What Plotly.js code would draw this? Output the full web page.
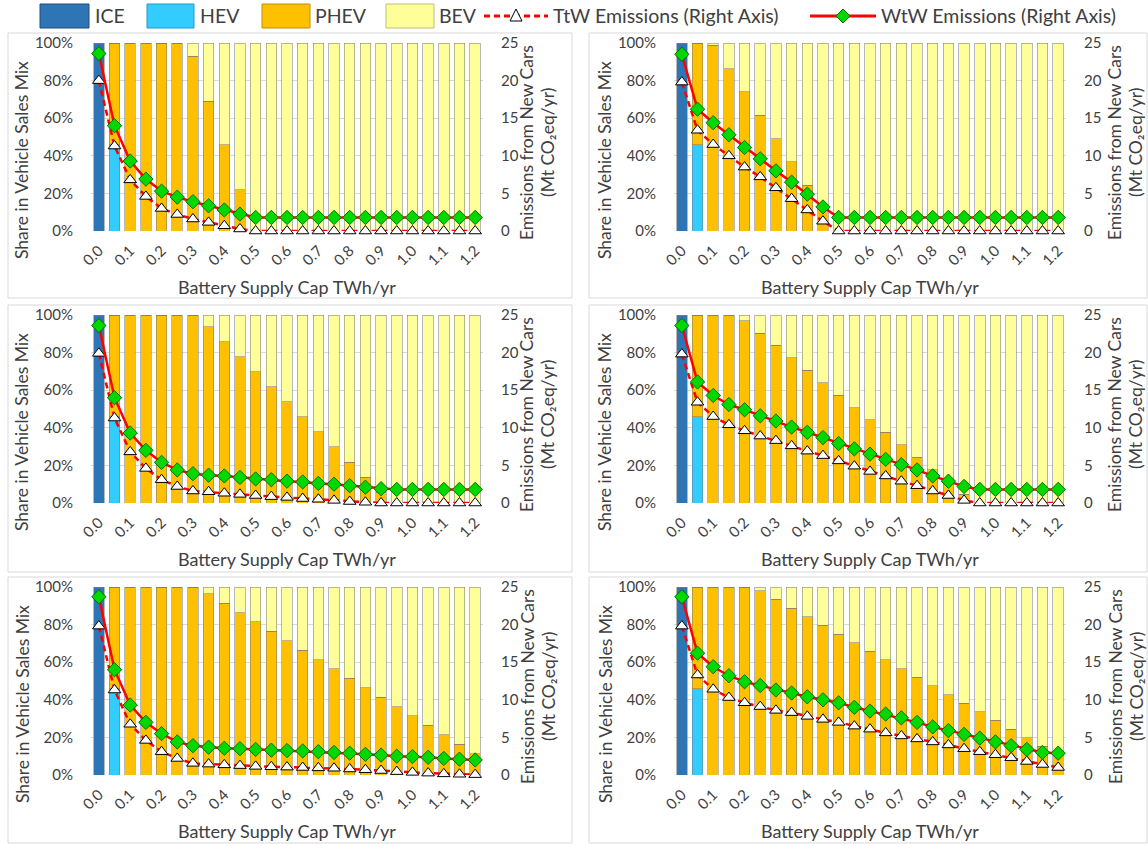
<!DOCTYPE html>
<html><head><meta charset="utf-8">
<script src="https://cdn.plot.ly/plotly-3.0.1.min.js"></script>
<style>body{margin:0;background:#fff}#chart{width:1148px;height:844px}</style>
</head><body><div id="chart"></div>
<script>
// ---------------- DATA ----------------
const caps = [0.00,0.05,0.10,0.15,0.20,0.25,0.30,0.35,0.40,0.45,0.50,0.55,0.60,0.65,0.70,0.75,0.80,0.85,0.90,0.95,1.00,1.05,1.10,1.15,1.20];
const tickVals = [0.0,0.1,0.2,0.3,0.4,0.5,0.6,0.7,0.8,0.9,1.0,1.1,1.2];
const tickLabels = ['0.0','0.1','0.2','0.3','0.4','0.5','0.6','0.7','0.8','0.9','1.0','1.1','1.2'];
const seriesNames = ['ICE','HEV','PHEV','BEV','TtW Emissions (Right Axis)','WtW Emissions (Right Axis)'];

const ice = [100,0,0,0,0,0,0,0,0,0,0,0,0,0,0,0,0,0,0,0,0,0,0,0,0];
const hev = [0,46,0,0,0,0,0,0,0,0,0,0,0,0,0,0,0,0,0,0,0,0,0,0,0];

// Panel 1 (top left)
const phev1 = [0,54,100,100,100,100,93,69,46,22,0,0,0,0,0,0,0,0,0,0,0,0,0,0,0];
const bev1  = [0,0,0,0,0,0,7,31,54,78,100,100,100,100,100,100,100,100,100,100,100,100,100,100,100];
const ttw1  = [20.0,11.3,6.8,4.6,3.0,2.2,1.6,1.15,0.7,0.27,0,0,0,0,0,0,0,0,0,0,0,0,0,0,0];
const wtw1  = [23.6,14.0,9.3,6.9,5.3,4.5,3.9,3.35,2.8,2.25,1.8,1.8,1.8,1.8,1.8,1.8,1.8,1.8,1.8,1.8,1.8,1.8,1.8,1.8,1.8];

// Panel 2 (top right)
const phev2 = [0,54,98.8,86.4,74,61.6,49.2,36.8,24.4,12,0,0,0,0,0,0,0,0,0,0,0,0,0,0,0];
const bev2  = [0,0,1.2,13.6,26,38.4,50.8,63.2,75.6,88,100,100,100,100,100,100,100,100,100,100,100,100,100,100,100];
const ttw2  = [19.8,13.4,11.5,10.0,8.5,7.2,5.75,4.3,2.8,1.3,0,0,0,0,0,0,0,0,0,0,0,0,0,0,0];
const wtw2  = [23.5,16.2,14.4,12.8,11.1,9.6,8.0,6.5,4.9,3.2,1.8,1.8,1.8,1.8,1.8,1.8,1.8,1.8,1.8,1.8,1.8,1.8,1.8,1.8,1.8];

// Panel 3 (middle left)
const phev3 = [0,54,100,100,100,100,100,93.8,85.8,77.8,69.8,61.8,53.8,45.8,37.8,29.8,21.8,13.8,5.8,0,0,0,0,0,0];
const bev3  = [0,0,0,0,0,0,0,6.2,14.2,22.2,30.2,38.2,46.2,54.2,62.2,70.2,78.2,86.2,94.2,100,100,100,100,100,100];
const ttw3  = [19.9,11.3,6.8,4.6,3.1,2.2,1.6,1.5,1.3,1.15,1.0,0.85,0.75,0.6,0.5,0.35,0.2,0.1,0,0,0,0,0,0,0];
const wtw3  = [23.6,14.0,9.3,7.0,5.4,4.4,3.9,3.7,3.6,3.4,3.2,3.1,2.9,2.8,2.6,2.5,2.3,2.1,1.9,1.8,1.8,1.8,1.8,1.8,1.8];

// Panel 4 (middle right)
const phev4 = [0,54,100,100,97,90.4,83.8,77.2,70.6,64,57.4,50.8,44.2,37.6,31,24.4,17.8,11.2,4.6,0,0,0,0,0,0];
const bev4  = [0,0,0,0,3,9.6,16.2,22.8,29.4,36,42.6,49.2,55.8,62.4,69,75.6,82.2,88.8,95.4,100,100,100,100,100,100];
const ttw4  = [19.8,13.4,11.5,10.4,9.6,8.9,8.3,7.6,6.9,6.3,5.6,4.9,4.2,3.6,2.9,2.3,1.6,1.0,0.35,0,0,0,0,0,0];
const wtw4  = [23.6,16.1,14.3,13.1,12.4,11.6,10.9,10.1,9.4,8.7,7.9,7.2,6.5,5.8,5.1,4.4,3.6,2.9,2.2,1.8,1.8,1.8,1.8,1.8,1.8];

// Panel 5 (bottom left)
const phev5 = [0,54,100,100,100,100,100,96.4,91.4,86.4,81.4,76.4,71.4,66.4,61.4,56.4,51.4,46.4,41.4,36.4,31.4,26.4,21.4,16.4,11.4];
const bev5  = [0,0,0,0,0,0,0,3.6,8.6,13.6,18.6,23.6,28.6,33.6,38.6,43.6,48.6,53.6,58.6,63.6,68.6,73.6,78.6,83.6,88.6];
const ttw5  = [19.8,11.3,6.75,4.6,3.1,2.2,1.55,1.45,1.35,1.25,1.15,1.1,1.05,1.0,0.95,0.9,0.8,0.7,0.6,0.45,0.35,0.25,0.15,0.1,0.05];
const wtw5  = [23.7,14.0,9.3,7.0,5.5,4.4,3.9,3.7,3.55,3.5,3.4,3.3,3.25,3.2,3.1,3.0,2.9,2.75,2.65,2.5,2.45,2.35,2.2,2.1,2.0];

// Panel 6 (bottom right)
const phev6 = [0,54,100,100,100,98,93.4,88.8,84.2,79.6,75,70.4,65.8,61.2,56.6,52,47.4,42.8,38.2,33.6,29,24.4,19.8,15.2,10.6];
const bev6  = [0,0,0,0,0,2,6.6,11.2,15.8,20.4,25,29.6,34.2,38.8,43.4,48,52.6,57.2,61.8,66.4,71,75.6,80.2,84.8,89.4];
const ttw6  = [19.8,13.3,11.4,10.3,9.6,9.1,8.6,8.3,7.8,7.4,7.0,6.5,6.1,5.6,5.2,4.8,4.4,4.0,3.5,3.1,2.7,2.3,1.8,1.4,1.0];
const wtw6  = [23.7,16.2,14.4,13.2,12.4,11.9,11.3,10.9,10.4,10.0,9.6,9.0,8.5,8.1,7.6,7.0,6.4,5.9,5.4,4.9,4.4,3.9,3.4,3.0,2.9];

const panels = [
  {phev: phev1, bev: bev1, ttw: ttw1, wtw: wtw1},
  {phev: phev2, bev: bev2, ttw: ttw2, wtw: wtw2},
  {phev: phev3, bev: bev3, ttw: ttw3, wtw: wtw3},
  {phev: phev4, bev: bev4, ttw: ttw4, wtw: wtw4},
  {phev: phev5, bev: bev5, ttw: ttw5, wtw: wtw5},
  {phev: phev6, bev: bev6, ttw: ttw6, wtw: wtw6}
];

const leftTitle = 'Share in Vehicle Sales Mix';
const rightTitle1 = 'Emissions from New Cars';
const rightTitle2 = '(Mt CO\u2082eq/yr)';
const xTitle = 'Battery Supply Cap TWh/yr';

// ---------------- STYLE ----------------
const W = 1148, H = 844;
const FONT = 'Lato, "Liberation Sans", Arial, sans-serif';
const TXT = '#404040';
const colors = {ICE:'#2E75B6', HEV:'#33CCFF', PHEV:'#FFC000', BEV:'#FFFF99'};
const barLine = {color:'rgba(120,120,120,0.75)', width:0.7};
const red = '#FF0000';
const green = '#00D800';

const X = px => px / W;
const Y = py => 1 - py / H;

const colLeft = [91, 674];
const plotW = 392;
const rowTop = [43, 315, 587];
const plotH = 188;

const traces = [];
const layout = {
  width: W, height: H,
  margin: {l:0, r:0, t:0, b:0},
  paper_bgcolor: '#ffffff', plot_bgcolor: 'rgba(0,0,0,0)',
  barmode: 'stack', bargap: 0.33,
  showlegend: false,
  font: {family: FONT, color: TXT, size: 15},
  shapes: [], annotations: []
};

panels.forEach((p, k) => {
  const col = k % 2, row = Math.floor(k / 2);
  const xn = k + 1, yl = 2 * k + 1, yr = 2 * k + 2;
  const xid = 'x' + (xn === 1 ? '' : xn);
  const ylid = 'y' + (yl === 1 ? '' : yl);
  const yrid = 'y' + yr;
  const x0 = colLeft[col], x1 = x0 + plotW;
  const t = rowTop[row], b = t + plotH;

  layout['xaxis' + (xn === 1 ? '' : xn)] = {
    domain: [X(x0), X(x1)], anchor: ylid,
    range: [-0.025, 1.225], tickvals: tickVals, ticktext: tickLabels,
    tickangle: -45, ticks: 'outside', ticklen: 4, tickcolor: 'rgba(0,0,0,0)',
    showgrid: false, zeroline: false, showline: false,
    tickfont: {family: FONT, size: 15, color: TXT}, fixedrange: true
  };
  layout['yaxis' + (yl === 1 ? '' : yl)] = {
    domain: [Y(b), Y(t)], anchor: xid,
    range: [0, 100], dtick: 20, ticksuffix: '%',
    gridcolor: '#D9D9D9', gridwidth: 1, zeroline: false, showline: false,
    ticks: 'outside', ticklen: 14, tickcolor: 'rgba(0,0,0,0)',
    tickfont: {family: FONT, size: 15, color: TXT}, fixedrange: true
  };
  layout['yaxis' + yr] = {
    domain: [Y(b), Y(t)], anchor: xid, overlaying: ylid, side: 'right',
    range: [0, 25], dtick: 5, showgrid: false, zeroline: false, showline: false,
    ticks: 'outside', ticklen: 14, tickcolor: 'rgba(0,0,0,0)',
    tickfont: {family: FONT, size: 15, color: TXT}, fixedrange: true
  };

  const stacks = [['ICE', ice], ['HEV', hev], ['PHEV', p.phev], ['BEV', p.bev]];
  stacks.forEach(([nm, arr]) => {
    traces.push({
      type: 'bar', name: nm, x: caps, y: arr, xaxis: xid, yaxis: ylid,
      marker: {color: colors[nm], line: barLine}, hoverinfo: 'skip'
    });
  });
  traces.push({
    type: 'scatter', mode: 'lines+markers', name: seriesNames[4],
    x: caps, y: p.ttw, xaxis: xid, yaxis: yrid, cliponaxis: false,
    line: {color: red, width: 2.5, dash: '6px,4px'},
    marker: {symbol: 'triangle-up', size: 11, color: '#ffffff', line: {color: '#000000', width: 1}}
  });
  traces.push({
    type: 'scatter', mode: 'lines+markers', name: seriesNames[5],
    x: caps, y: p.wtw, xaxis: xid, yaxis: yrid, cliponaxis: false,
    line: {color: red, width: 2.5},
    marker: {symbol: 'diamond', size: 11, color: green, line: {color: '#007000', width: 1}}
  });

  // panel frame
  const fx0 = col === 0 ? 8 : 589, fx1 = col === 0 ? 572 : 1147;
  const fy0 = [33, 305, 577][row], fy1 = [298, 572, 843][row];
  layout.shapes.push({type: 'rect', xref: 'paper', yref: 'paper', layer: 'below',
    x0: X(fx0), x1: X(fx1), y0: Y(fy1), y1: Y(fy0), line: {color: '#D9D9D9', width: 1}});

  // axis titles
  const offL = col === 0 ? 0 : 583;
  const offR = col === 0 ? 0 : 588;
  layout.annotations.push({xref: 'paper', yref: 'paper', x: X(22 + offL), y: Y(t + 117),
    text: leftTitle, textangle: -90, showarrow: false,
    xanchor: 'center', yanchor: 'middle', font: {family: FONT, size: 17.5, color: TXT}});
  layout.annotations.push({xref: 'paper', yref: 'paper', x: X(527 + offR), y: Y(t + 100),
    text: rightTitle1, textangle: -90, showarrow: false,
    xanchor: 'center', yanchor: 'middle', font: {family: FONT, size: 17.5, color: TXT}});
  layout.annotations.push({xref: 'paper', yref: 'paper', x: X(548 + offR), y: Y(t + 100),
    text: rightTitle2, textangle: -90, showarrow: false,
    xanchor: 'center', yanchor: 'middle', font: {family: FONT, size: 17.5, color: TXT}});
  layout.annotations.push({xref: 'paper', yref: 'paper', x: X((x0 + x1) / 2), y: Y(b + 56),
    text: xTitle, showarrow: false,
    xanchor: 'center', yanchor: 'middle', font: {family: FONT, size: 18, color: TXT}});
});

// ---------------- custom legend ----------------
const legY = 16;
const LEGSIZE = 19.5;
const swatches = [
  {name: seriesNames[0], x0: 40, x1: 89, tx: 93, fill: colors.ICE, edge: '#1F4E79'},
  {name: seriesNames[1], x0: 147, x1: 194, tx: 198, fill: colors.HEV, edge: '#2299CC'},
  {name: seriesNames[2], x0: 262, x1: 310, tx: 313, fill: colors.PHEV, edge: '#BF9000'},
  {name: seriesNames[3], x0: 386, x1: 434, tx: 437, fill: colors.BEV, edge: '#BFBF70'}
];
swatches.forEach(s => {
  layout.shapes.push({type: 'rect', xref: 'paper', yref: 'paper',
    x0: X(s.x0), x1: X(s.x1), y0: Y(legY + 12), y1: Y(legY - 12),
    fillcolor: s.fill, line: {color: s.edge, width: 1}});
  layout.annotations.push({xref: 'paper', yref: 'paper', x: X(s.tx), y: Y(legY),
    text: s.name, showarrow: false, xanchor: 'left', yanchor: 'middle',
    font: {family: FONT, size: LEGSIZE, color: TXT}});
});
// TtW legend line
layout.shapes.push({type: 'line', xref: 'paper', yref: 'paper', x0: X(484), x1: X(548), y0: Y(legY), y1: Y(legY),
  line: {color: red, width: 3, dash: '6px,4px'}});
const tc = 516;
layout.shapes.push({type: 'path', xref: 'paper', yref: 'paper',
  path: `M ${X(tc)} ${Y(legY - 7)} L ${X(tc + 6)} ${Y(legY + 5)} L ${X(tc - 6)} ${Y(legY + 5)} Z`,
  fillcolor: '#ffffff', line: {color: '#000000', width: 1}});
layout.annotations.push({xref: 'paper', yref: 'paper', x: X(551), y: Y(legY),
  text: seriesNames[4], showarrow: false, xanchor: 'left', yanchor: 'middle',
  font: {family: FONT, size: LEGSIZE, color: TXT}});
// WtW legend line
layout.shapes.push({type: 'line', xref: 'paper', yref: 'paper', x0: X(810), x1: X(876), y0: Y(legY), y1: Y(legY),
  line: {color: red, width: 3}});
const dc = 843;
layout.shapes.push({type: 'path', xref: 'paper', yref: 'paper',
  path: `M ${X(dc)} ${Y(legY - 7)} L ${X(dc + 7)} ${Y(legY)} L ${X(dc)} ${Y(legY + 7)} L ${X(dc - 7)} ${Y(legY)} Z`,
  fillcolor: green, line: {color: '#007000', width: 1}});
layout.annotations.push({xref: 'paper', yref: 'paper', x: X(879), y: Y(legY),
  text: seriesNames[5], showarrow: false, xanchor: 'left', yanchor: 'middle',
  font: {family: FONT, size: LEGSIZE, color: TXT}});

Plotly.newPlot('chart', traces, layout, {staticPlot: true, displayModeBar: false});
</script>
</body></html>
